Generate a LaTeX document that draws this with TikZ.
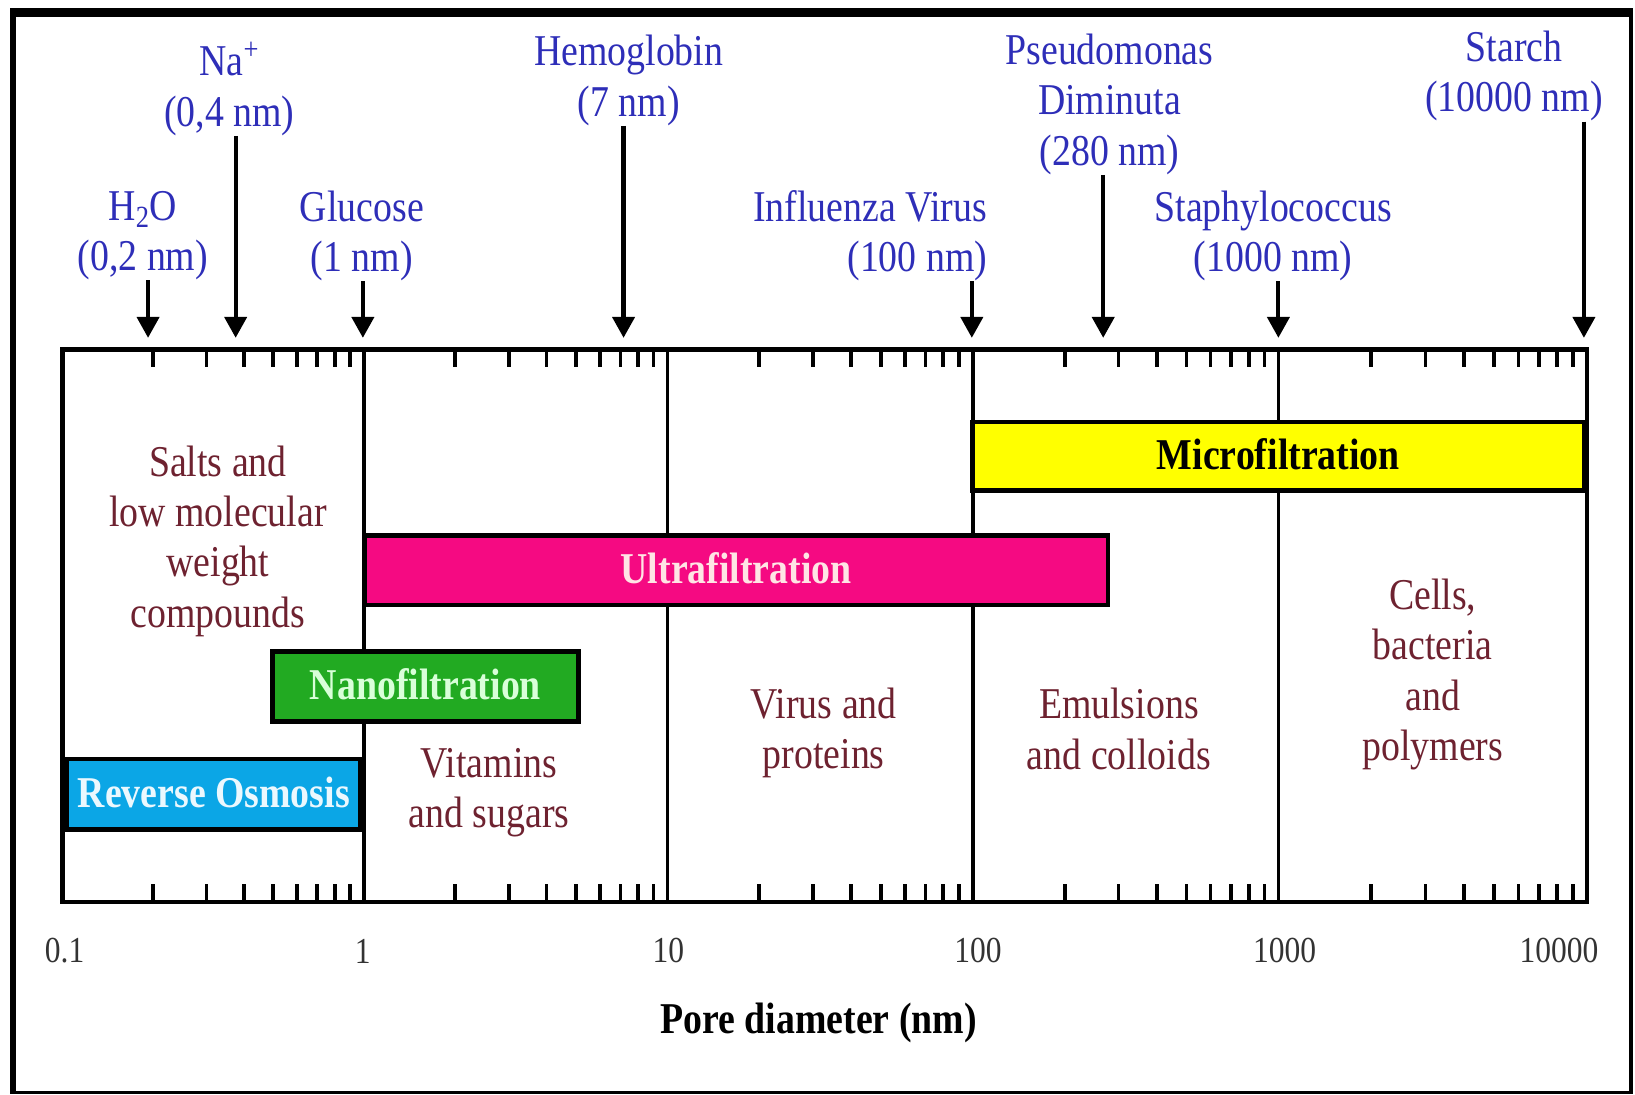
\documentclass[tikz,border=0pt]{standalone}
\usepackage{fontspec}
\setmainfont{Liberation Serif}[FakeStretch=0.86]
\usepackage{tikz}
\usetikzlibrary{arrows.meta,positioning}
\definecolor{sizeblue}{HTML}{2E2EB8}
\definecolor{rangered}{HTML}{6E2230}
\definecolor{microyellow}{HTML}{FFFF00}
\definecolor{ultrapink}{HTML}{F50A82}
\definecolor{nanogreen}{HTML}{22AA22}
\definecolor{roblue}{HTML}{0BA6E6}
\tikzset{
  sizelabel/.style={text=sizeblue,align=center,inner sep=0pt,
    font=\fontsize{24}{27.5}\selectfont},
  rangelabel/.style={text=rangered,align=center,
    font=\fontsize{24}{27.5}\selectfont},
  filterbar/.style={rectangle,draw=black,line width=0.09cm,inner sep=0pt,
    text depth=0.25em,font=\fontsize{24}{27.5}\selectfont\bfseries},
  decadelabel/.style={text=black!80,font=\fontsize{20}{24}\selectfont},
  sizearrow/.style={-{Triangle[length=4mm,width=4.2mm]},line width=0.08cm},
  minortick/.style={line width=0.07cm}
}

\begin{document}
\begin{tikzpicture}[x=0.02cm,y=-0.02cm]
  \useasboundingbox (0,0) rectangle (1568,1050);
  % outer frame
  \draw[line width=0.11cm] (12.5,8) -- (12.5,1049);
  \draw[line width=0.08cm] (1564,8) -- (1564,1049);
  \draw[line width=0.06cm] (10,1047.5) -- (1566,1047.5);
  \draw[line width=0.17cm] (10,12) -- (1566,12);
  % decades and minor ticks
  \foreach \x in {349,640,933,1226}
    \draw[line width=0.07cm] (\x,335) -- (\x,865);
  \foreach \a/\b in {60/349,349/640,640/933,933/1226,1226/1522}
    \foreach \m in {2,...,9} {
      \pgfmathsetmacro{\t}{\a+(\b-\a)*log10(\m)}
      \draw[minortick] (\t,335) -- (\t,352);
      \draw[minortick] (\t,865) -- (\t,848);
    }
  \draw[line width=0.09cm] (60,335) rectangle (1522,865);
  % filtration ranges
  \node[filterbar,fill=microyellow,text=black,minimum width=11.75cm,minimum height=1.31cm] (micro) at (1226,437.5) {Microfiltration};
  \node[filterbar,fill=ultrapink,text=pink!40,minimum width=14.27cm,minimum height=1.33cm] (ultra) at (706,547) {Ultrafiltration};
  \node[filterbar,fill=nanogreen,text=green!15,minimum width=5.87cm,minimum height=1.35cm] (nano) at (408,658.5) {Nanofiltration};
  \node[filterbar,fill=roblue,text=cyan!8,minimum width=5.63cm,minimum height=1.35cm] (ro) at (205,761.5) {Reverse Osmosis};
  % what is retained
  \node[rangelabel] (salts) at (209,519) {Salts and\\low molecular\\weight\\compounds};
  \node[rangelabel] (vitamins) at (469,760) {Vitamins\\and sugars};
  \node[rangelabel] (virus) at (790,703) {Virus and\\proteins};
  \node[rangelabel] (emulsions) at (1073,699) {Emulsions\\and colloids};
  \node[rangelabel] (cells) at (1374,647) {Cells,\\bacteria\\and\\polymers};
  % species sizes
  \node[sizelabel] (h2o) at (137,226) {H\textsubscript{2}O\\(0,2 nm)};
  \node[sizelabel] (na) at (220,85) {Na\textsuperscript{+}\\(0,4 nm)};
  \node[sizelabel] (glucose) at (347,226) {Glucose\\(1 nm)};
  \node[sizelabel] (hemo) at (603,77) {Hemoglobin\\(7 nm)};
  \node[sizelabel,align=right,anchor=east] (flu) at (947,226) {Influenza Virus\\(100 nm)};
  \node[sizelabel] (pseudo) at (1064,100) {Pseudomonas\\Diminuta\\(280 nm)};
  \node[sizelabel] (staph) at (1221,226) {Staphylococcus\\(1000 nm)};
  \node[sizelabel] (starch) at (1452,73) {Starch\\(10000 nm)};
  \coordinate (p-h2o) at (142,324);
  \coordinate (p-na) at (226,324);
  \coordinate (p-glucose) at (348,324);
  \coordinate (p-hemo) at (598,324);
  \coordinate (p-flu) at (932,324);
  \coordinate (p-pseudo) at (1058,324);
  \coordinate (p-staph) at (1226,324);
  \coordinate (p-starch) at (1519,324);
  \foreach \s in {h2o,na,glucose,hemo,flu,pseudo,staph,starch}
    \draw[sizearrow] (p-\s |- \s.south) -- (p-\s);
  % axis
  \foreach \v/\x in {0.1/62,1/348,10/641,100/938,1000/1232,10000/1495}
    \node[decadelabel] (d\x) at (\x,912) {\v};
  \node[font=\fontsize{24}{27.5}\selectfont\bfseries] (axis) at (785,981) {Pore diameter (nm)};
\end{tikzpicture}
\end{document}
